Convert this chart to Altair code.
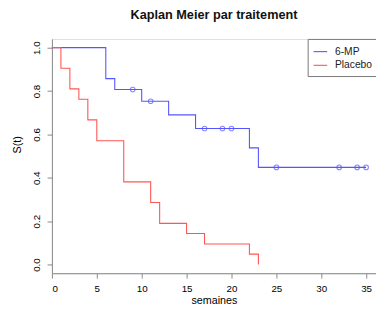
import altair as alt
import pandas as pd

# Kaplan-Meier step data
mp_time = [0, 6, 7, 10, 13, 16, 22, 23, 35]
mp_surv = [1.0, 0.857, 0.807, 0.753, 0.690, 0.627, 0.538, 0.448, 0.448]
pl_time = [0, 1, 2, 3, 4, 5, 8, 11, 12, 15, 17, 22, 23]
pl_surv = [1.0, 0.905, 0.810, 0.762, 0.667, 0.571, 0.381, 0.286, 0.190, 0.143, 0.095, 0.048, 0.0]
# censored marks (6-MP)
cens_time = [9, 11, 17, 19, 20, 25, 32, 34, 35]
cens_surv = [0.807, 0.753, 0.627, 0.627, 0.627, 0.448, 0.448, 0.448, 0.448]

groups = ["6-MP", "Placebo"]
colors = ["#5555ff", "#ff5555"]

steps = pd.DataFrame(
    {"t": mp_time + pl_time,
     "s": mp_surv + pl_surv,
     "g": ["6-MP"] * len(mp_time) + ["Placebo"] * len(pl_time)}
)
cens = pd.DataFrame({"t": cens_time, "s": cens_surv, "g": ["6-MP"] * len(cens_time)})

FONT = "Liberation Sans"

xenc = alt.X("t:Q", scale=alt.Scale(domain=[0, 36.1], nice=False, zero=False),
             axis=alt.Axis(values=[0, 5, 10, 15, 20, 25, 30, 35], title="semaines",
                           grid=False, tickSize=5, labelPadding=6, titlePadding=1,
                           format="d", titleFontWeight="normal"))
yenc = alt.Y("s:Q", scale=alt.Scale(domain=[-0.04, 1.04], nice=False, zero=False),
             axis=alt.Axis(values=[0, 0.2, 0.4, 0.6, 0.8, 1.0], title="S(t)", format=".1f",
                           grid=False, tickSize=5, labelAngle=270, labelAlign="center",
                           labelBaseline="bottom", labelPadding=6, titlePadding=9,
                           titleAngle=270, titleFontWeight="normal", titleY=108))
cenc = alt.Color("g:N", scale=alt.Scale(domain=groups, range=colors),
                 legend=alt.Legend(title=None, orient="none", legendX=262, legendY=0,
                                   symbolType="stroke", symbolSize=196,
                                   symbolStrokeWidth=1.1, strokeColor="#777",
                                   fillColor="white", padding=5, rowPadding=0,
                                   labelFontSize=10.5, labelColor="#222",
                                   labelOffset=7, labelFont=FONT))

lines = alt.Chart(steps).mark_line(interpolate="step-after", strokeWidth=1.1).encode(
    x=xenc, y=yenc, color=cenc)
pts = alt.Chart(cens).mark_point(shape="circle", filled=False, size=22, strokeWidth=1.1).encode(
    x="t:Q", y="s:Q", color=alt.Color("g:N", scale=alt.Scale(domain=groups, range=colors), legend=None))

chart = alt.layer(lines, pts).properties(
    width=332, height=240,
    autosize=alt.AutoSizeParams(type="none"),
    padding={"left": 45, "top": 28, "right": 0, "bottom": 36},
    title=alt.Title("Kaplan Meier par traitement", fontSize=13, fontWeight="bold",
                    font=FONT, offset=17, color="#111"),
).configure_view(stroke="#555", strokeWidth=1).configure_axis(
    domainColor="#555", tickColor="#555", labelFont=FONT, titleFont=FONT,
    labelFontSize=11, titleFontSize=11, labelColor="#222", titleColor="#222"
).configure(background="white")

chart.save("out.html", embed_options={"renderer": "svg", "actions": False})
